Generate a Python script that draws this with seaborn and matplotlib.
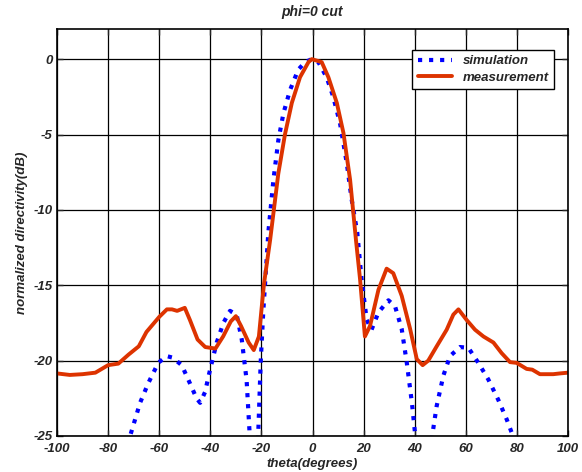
import numpy as np
import pandas as pd
import seaborn as sns
import matplotlib.pyplot as plt

# angles (degrees) and normalized directivity (dB)
theta_sim = [-74, -71.4, -67.5, -64.3, -60.4, -57.1, -54.8, -51.2, -48.0, -45.4, -44.0,
             -42.1, -40.1, -37.5, -34.9, -32.3, -29.7, -27.7, -25.8, -24.7, -23.5,
             -22.0, -21.2, -20.3, -19.3, -17.3, -15.3, -13.4, -11.4, -8.8, -5.6, -2.9,
             -0.3, 2.3, 5.5, 8.1, 10.8, 13.4, 15.3, 17.5, 19.2, 21.2, 23.1, 25.8, 29.7,
             32.3, 34.9, 36.9, 38.9, 40.1, 41.5, 43.5, 45.5, 47.0, 48.6, 51.2, 53.8,
             57.7, 61.0, 64.9, 68.8, 72.7, 76.0, 78.0, 80.0]
sim_db = [-27.0, -25.0, -22.8, -21.5, -20.15, -19.7, -19.8, -20.3, -21.5, -22.5, -22.8,
          -22.1, -20.6, -18.8, -17.5, -16.7, -16.95, -18.6, -21.3, -24.6, -30.0,
          -30.0, -24.6, -20.15, -16.8, -11.5, -8.0, -5.4, -3.6, -2.05, -0.7, -0.2,
          0.0, -0.2, -1.2, -2.5, -4.3, -6.9, -9.3, -11.5, -14.6, -17.3, -17.95, -16.8, -16.0,
          -16.4, -17.9, -20.15, -22.8, -24.8, -28.0, -32.0, -28.0, -24.8, -23.0, -21.0, -19.7,
          -19.1, -19.15, -20.15, -21.25, -22.6, -23.9, -24.8, -26.5]

theta_meas = [-100, -95, -90, -85, -80, -76, -72, -68, -65, -60, -57, -55, -53, -50,
              -48, -45, -42, -38, -35, -32, -30, -28, -25, -23, -21, -19, -16.6,
              -13.4, -10.8, -8.1, -4.9, -1.6, -0.3, 3.6, 6.2, 9.5, 12.1, 14.7, 17.0,
              18.6, 20.5, 22.5, 25.8, 29.0, 31.6, 34.9, 38.2, 40.8, 43.1, 45.3, 48.6,
              52.5, 55.1, 57.1, 60.3, 63.6, 66.9, 70.8, 74.0, 77.3, 79.9, 83.8, 86.0,
              89.0, 94.2, 96.8, 100]
meas_db = [-20.85, -20.95, -20.9, -20.8, -20.3, -20.2, -19.6, -19.05, -18.1, -17.1, -16.6,
           -16.6, -16.7, -16.5, -17.3, -18.6, -19.1, -19.2, -18.4, -17.4, -17.05, -17.7,
           -18.8, -19.3, -18.4, -14.9, -12.0, -7.6, -5.0, -2.9, -1.2, -0.2, 0.0, -0.2,
           -1.2, -2.9, -4.9, -8.0, -12.0, -14.6, -18.4, -17.7, -15.3, -13.9, -14.2, -15.7,
           -17.9, -19.9, -20.3, -20.0, -19.05, -17.95, -16.95, -16.6, -17.3, -17.95, -18.4,
           -18.8, -19.5, -20.1, -20.15, -20.55, -20.6, -20.9, -20.9, -20.85, -20.8]

sim = pd.DataFrame({"theta": theta_sim, "db": sim_db})
meas = pd.DataFrame({"theta": theta_meas, "db": meas_db})

sns.set_theme(style="ticks")
plt.rcParams['font.family'] = ['Liberation Sans', 'DejaVu Sans']
plt.rcParams['axes.unicode_minus'] = False

fig = plt.figure(figsize=(5.82, 4.72), dpi=100)
ax = fig.add_axes([0.098, 0.0763, 0.878, 0.8623])

sns.lineplot(data=sim, x="theta", y="db", ax=ax, color="#0000ff", linestyle=":",
             linewidth=3, label="simulation", sort=False)
sns.lineplot(data=meas, x="theta", y="db", ax=ax, color="#dd3300", linestyle="-",
             linewidth=2.8, label="measurement", sort=False)

ax.set_xlim(-100, 100)
ax.set_ylim(-25, 2)
ax.set_xticks(np.arange(-100, 101, 20))
ax.set_yticks(np.arange(-25, 1, 5))
ax.grid(True, color="black", linewidth=0.9, linestyle="-")
ax.tick_params(direction="in", length=4, width=1, top=True, right=True, labelsize=9.5)
ax.tick_params(axis="x", pad=5)
ax.tick_params(axis="y", pad=3)
for lbl in ax.get_xticklabels() + ax.get_yticklabels():
    lbl.set_fontweight("bold")
    lbl.set_fontstyle("italic")
for sp in ax.spines.values():
    sp.set_color("black")
    sp.set_linewidth(1.2)

ax.set_title("phi=0 cut", fontsize=10, fontweight="bold", fontstyle="italic", pad=9)
ax.set_xlabel("theta(degrees)", fontsize=9.5, fontweight="bold", fontstyle="italic", labelpad=2)
ax.set_ylabel("normalized directivity(dB)", fontsize=9.5, fontweight="bold", fontstyle="italic",
              labelpad=4)

leg = ax.legend(loc="upper right", bbox_to_anchor=(0.985, 0.965), fancybox=False,
                framealpha=1, edgecolor="black", fontsize=9.5, handlelength=2.6,
                borderpad=0.4, labelspacing=0.3)
leg.get_frame().set_linewidth(1.0)
for t in leg.get_texts():
    t.set_fontweight("bold")
    t.set_fontstyle("italic")

fig.savefig("out.png", dpi=100)
